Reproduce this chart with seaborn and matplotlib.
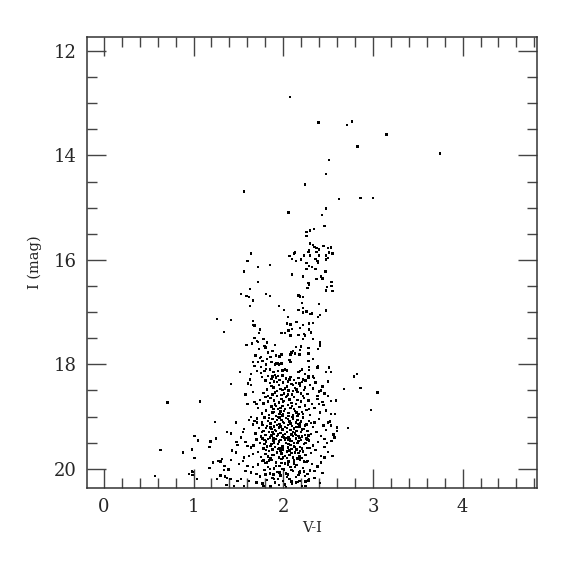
import matplotlib
matplotlib.use("Agg")
import matplotlib.pyplot as plt
import seaborn as sns
import pandas as pd
from matplotlib.ticker import MultipleLocator

# (V-I, I) pairs, grouped by region of the diagram
bright_giants = [
    (2.075, 12.88), (2.395, 13.37), (2.71, 13.42), (2.77, 13.35), (3.15, 13.60),
    (2.83, 13.83), (3.75, 13.96), (2.51, 14.09), (2.48, 14.36), (2.24, 14.56),
    (1.56, 14.69), (2.62, 14.83), (2.86, 14.81), (3.00, 14.81), (2.06, 15.09),
    (2.48, 15.02), (2.43, 15.14), (2.46, 15.35), (2.34, 15.41), (2.30, 15.44),
    (2.26, 15.47), (2.26, 15.54),
]

upper_rgb = [
    (2.30, 15.69), (2.33, 15.72), (2.35, 15.75), (2.37, 15.77), (2.45, 15.73),
    (2.50, 15.77), (2.53, 15.76), (2.40, 15.80), (2.29, 15.81), (2.28, 15.85),
    (2.37, 15.85), (2.51, 15.86), (2.55, 15.88), (2.13, 15.86), (2.12, 15.88),
    (2.07, 15.93), (2.23, 15.92), (2.30, 15.92), (2.40, 15.92), (2.48, 15.92),
    (2.50, 15.96), (2.48, 15.99), (2.36, 15.98), (2.38, 16.02), (2.39, 16.05),
    (2.10, 15.98), (2.14, 16.02), (2.20, 15.99), (2.26, 16.06), (2.29, 16.12),
    (2.32, 16.14), (2.36, 16.17), (2.26, 16.18), (2.47, 16.22), (1.85, 16.10),
    (2.10, 16.28), (2.22, 16.32), (2.42, 16.32), (2.44, 16.36), (2.37, 16.37),
    (2.54, 16.42), (2.28, 16.44), (2.29, 16.47), (2.27, 16.54), (2.49, 16.52),
    (2.54, 16.50), (2.48, 16.59), (2.55, 16.60), (1.81, 16.65), (1.85, 16.69),
    (2.17, 16.68), (2.19, 16.70), (2.22, 16.71), (2.21, 16.82), (1.95, 16.88),
    (2.01, 16.96), (2.17, 16.96), (2.22, 16.92), (2.40, 16.85), (2.22, 17.01),
    (2.26, 16.99), (2.30, 17.04), (2.32, 17.03), (2.48, 16.97), (2.39, 17.09),
    (2.41, 17.06), (2.05, 17.09),
]

blue_side = [
    (1.64, 15.88), (1.60, 16.02), (1.56, 16.22), (1.72, 16.14), (1.72, 16.42),
    (1.63, 16.56), (1.53, 16.65), (1.59, 16.69), (1.62, 16.71), (1.66, 16.78),
    (1.63, 16.88), (1.26, 17.13), (1.42, 17.15), (1.34, 17.38), (1.66, 17.17),
    (1.67, 17.25), (1.68, 17.26), (1.74, 17.33), (1.73, 17.40), (1.68, 17.49),
    (1.71, 17.55), (1.72, 17.57), (1.78, 17.52), (1.65, 17.60), (1.59, 17.63),
    (1.79, 17.65), (1.82, 17.58), (1.80, 17.68), (1.73, 17.71), (1.83, 17.77),
    (1.69, 17.83), (1.74, 17.88), (1.75, 17.86), (1.82, 17.90), (1.66, 17.95),
    (1.72, 17.95), (1.77, 17.94), (1.81, 18.00), (1.68, 18.03), (1.75, 18.05),
    (1.81, 18.09), (1.52, 18.15), (1.71, 18.13), (1.75, 18.17), (1.79, 18.13),
    (1.63, 18.29), (1.42, 18.38), (1.58, 18.58), (1.64, 18.18), (1.61, 18.37),
    (1.64, 18.40), (1.66, 18.53), (1.68, 18.72), (1.70, 18.76), (1.60, 18.76),
    (0.71, 18.73), (1.07, 18.71), (1.24, 19.10), (1.37, 19.30), (1.01, 19.37),
    (1.05, 19.46), (1.19, 19.48), (1.25, 19.42), (1.18, 19.58), (0.63, 19.64),
    (0.88, 19.69), (0.98, 19.63), (1.01, 19.79), (1.22, 19.88), (1.28, 19.85),
    (1.30, 19.86), (1.32, 19.81), (1.35, 19.94), (1.18, 19.98), (1.34, 20.02),
    (0.98, 20.05), (0.95, 20.10), (0.99, 20.12), (0.99, 20.06), (0.57, 20.14),
    (1.04, 20.19), (1.26, 20.19), (1.30, 20.13), (1.35, 20.15), (1.37, 20.18),
    (1.37, 20.31), (1.36, 20.31), (1.47, 19.11), (1.42, 19.32), (1.48, 19.49),
    (1.49, 19.54), (1.43, 19.65), (1.47, 19.69), (1.34, 19.94), (1.39, 20.01),
    (1.42, 19.83), (1.41, 20.20), (1.49, 20.23), (1.64, 19.01), (1.62, 19.06),
    (1.68, 19.08), (1.71, 19.11), (1.56, 19.24), (1.55, 19.30), (1.53, 19.40),
    (1.58, 19.49), (1.60, 19.56), (1.64, 19.59), (1.66, 19.72), (1.62, 19.75),
    (1.56, 19.78), (1.55, 19.85), (1.51, 19.91), (1.60, 19.94), (1.66, 19.97),
    (1.58, 20.04), (1.64, 20.07), (1.70, 20.10), (1.53, 20.20), (1.62, 20.23),
    (1.70, 20.26), (1.45, 20.33), (1.56, 20.33),
]

mid_branch = [
    (1.91, 17.63), (1.88, 17.74), (1.92, 17.83), (1.96, 17.86), (1.87, 17.96),
    (1.91, 18.00), (1.94, 17.98), (1.85, 18.10), (1.89, 18.15), (1.94, 18.13),
    (1.91, 18.20), (1.88, 18.23), (2.04, 17.22), (2.08, 17.24), (2.15, 17.19),
    (2.22, 17.25), (2.29, 17.22), (2.33, 17.21), (2.10, 17.32), (2.19, 17.30),
    (2.29, 17.33), (2.06, 17.35), (1.98, 17.40), (2.02, 17.40), (2.08, 17.45),
    (2.17, 17.44), (2.23, 17.42), (2.24, 17.45), (2.31, 17.39), (2.22, 17.51),
    (2.33, 17.51), (2.14, 17.67), (2.11, 17.74), (2.09, 17.77), (2.20, 17.66),
    (2.19, 17.72), (2.28, 17.69), (2.28, 17.79), (2.41, 17.58), (2.41, 17.64),
    (2.39, 17.71), (1.98, 17.81), (1.95, 17.85), (2.13, 17.79), (2.08, 17.81),
    (2.18, 17.81), (1.86, 17.86), (2.07, 17.92), (2.08, 17.96), (2.28, 17.94),
    (2.33, 17.90), (2.39, 18.03), (2.38, 18.06), (2.51, 18.06), (2.48, 18.15),
    (2.53, 18.15), (2.29, 18.05), (2.29, 18.11), (2.21, 18.10), (2.19, 18.13),
    (2.17, 18.15), (2.02, 18.10), (1.99, 18.12), (2.04, 18.12), (1.92, 17.98),
    (1.98, 17.98), (1.95, 18.00), (2.24, 18.19), (2.28, 18.22), (2.33, 18.23),
    (2.34, 18.26), (2.79, 18.23), (2.82, 18.19), (2.22, 18.29), (2.28, 18.26),
]

red_side = [
    (2.68, 18.47), (2.86, 18.45), (3.05, 18.54), (2.98, 18.87), (2.72, 19.22),
    (2.38, 18.60), (2.42, 18.50), (2.46, 18.56), (2.50, 18.60), (2.59, 18.69),
    (2.40, 18.76), (2.44, 18.72), (2.48, 18.88), (2.53, 18.95), (2.50, 19.11),
    (2.53, 19.17), (2.60, 19.27), (2.57, 19.40), (2.46, 19.43), (2.49, 19.51),
    (2.55, 19.75), (2.46, 19.78), (2.42, 19.88), (2.38, 19.97), (2.35, 20.04),
    (2.27, 20.10), (2.29, 20.20), (2.18, 20.23), (2.25, 20.33),
]

core_18 = [
    (1.76, 18.24), (1.80, 18.31), (1.83, 18.22), (1.85, 18.36), (1.87, 18.28),
    (1.89, 18.44), (1.90, 18.33), (1.92, 18.25), (1.93, 18.51), (1.95, 18.39),
    (1.96, 18.30), (1.97, 18.47), (1.99, 18.21), (2.00, 18.35), (2.01, 18.56),
    (2.03, 18.27), (2.04, 18.42), (2.05, 18.33), (2.06, 18.50), (2.08, 18.24),
    (2.09, 18.38), (2.10, 18.58), (2.12, 18.30), (2.13, 18.45), (2.14, 18.36),
    (2.16, 18.53), (2.17, 18.26), (2.19, 18.41), (2.21, 18.34), (2.23, 18.49),
    (2.25, 18.31), (2.27, 18.57), (2.30, 18.40), (2.33, 18.46), (2.36, 18.35),
    (2.40, 18.52), (2.44, 18.42), (2.50, 18.33), (1.82, 18.48), (1.78, 18.55),
    (1.88, 18.58), (1.94, 18.22), (2.02, 18.46), (2.07, 18.29), (2.15, 18.48),
    (1.98, 18.59), (2.11, 18.40), (2.20, 18.56),
    (1.72, 18.83), (1.74, 18.68), (1.76, 18.94), (1.78, 18.75), (1.80, 18.62),
    (1.81, 18.88), (1.83, 18.71), (1.84, 18.97), (1.86, 18.64), (1.87, 18.81),
    (1.88, 18.92), (1.90, 18.69), (1.91, 18.77), (1.92, 18.99), (1.93, 18.61),
    (1.94, 18.86), (1.95, 18.73), (1.97, 18.90), (1.98, 18.66), (1.99, 18.80),
    (2.00, 18.96), (2.01, 18.70), (2.02, 18.85), (2.03, 18.63), (2.05, 18.78),
    (2.06, 18.93), (2.07, 18.67), (2.08, 18.84), (2.09, 18.74), (2.11, 18.98),
    (2.12, 18.62), (2.13, 18.89), (2.14, 18.76), (2.16, 18.68), (2.17, 18.95),
    (2.18, 18.82), (2.20, 18.71), (2.21, 18.91), (2.23, 18.64), (2.24, 18.79),
    (2.26, 18.87), (2.28, 18.69), (2.30, 18.97), (2.32, 18.76), (2.35, 18.84),
    (2.38, 18.66), (2.41, 18.92), (2.45, 18.78), (2.48, 18.88), (2.53, 18.70),
    (2.58, 18.95), (1.89, 18.85), (1.96, 18.95), (2.04, 18.61), (2.10, 18.80),
    (2.15, 18.92), (2.22, 18.61),
]

core_19 = [
    (1.66, 19.15), (1.69, 19.32), (1.71, 19.04), (1.73, 19.22), (1.75, 19.38),
    (1.76, 19.11), (1.78, 19.27), (1.79, 19.02), (1.80, 19.35), (1.82, 19.18),
    (1.83, 19.08), (1.84, 19.29), (1.85, 19.39), (1.86, 19.13), (1.87, 19.24),
    (1.88, 19.05), (1.89, 19.33), (1.90, 19.19), (1.91, 19.10), (1.92, 19.28),
    (1.93, 19.37), (1.94, 19.01), (1.95, 19.21), (1.96, 19.14), (1.97, 19.31),
    (1.98, 19.07), (1.99, 19.25), (2.00, 19.36), (2.01, 19.12), (2.02, 19.20),
    (2.03, 19.03), (2.04, 19.30), (2.05, 19.16), (2.06, 19.39), (2.07, 19.09),
    (2.08, 19.26), (2.09, 19.34), (2.10, 19.18), (2.11, 19.04), (2.12, 19.23),
    (2.13, 19.32), (2.14, 19.11), (2.15, 19.28), (2.16, 19.06), (2.17, 19.37),
    (2.18, 19.19), (2.19, 19.13), (2.20, 19.30), (2.22, 19.02), (2.23, 19.24),
    (2.24, 19.35), (2.26, 19.15), (2.27, 19.27), (2.29, 19.08), (2.31, 19.33),
    (2.33, 19.20), (2.35, 19.11), (2.37, 19.29), (2.40, 19.05), (2.42, 19.37),
    (2.45, 19.17), (2.48, 19.26), (2.52, 19.09), (2.56, 19.34), (2.60, 19.21),
    (1.81, 19.22), (1.87, 19.36), (1.93, 19.16), (1.99, 19.39), (2.05, 19.05),
    (2.11, 19.29), (2.17, 19.14), (2.21, 19.38), (1.77, 19.16), (2.28, 19.36),
    (2.02, 19.33), (1.96, 19.02),
    (1.67, 19.55), (1.70, 19.44), (1.72, 19.68), (1.74, 19.51), (1.75, 19.77),
    (1.77, 19.42), (1.78, 19.61), (1.80, 19.72), (1.81, 19.48), (1.82, 19.57),
    (1.84, 19.66), (1.85, 19.41), (1.86, 19.79), (1.87, 19.53), (1.88, 19.63),
    (1.89, 19.46), (1.90, 19.74), (1.91, 19.58), (1.92, 19.43), (1.93, 19.69),
    (1.94, 19.52), (1.95, 19.78), (1.96, 19.61), (1.97, 19.45), (1.98, 19.71),
    (1.99, 19.56), (2.00, 19.64), (2.01, 19.40), (2.02, 19.75), (2.03, 19.50),
    (2.04, 19.67), (2.05, 19.59), (2.06, 19.44), (2.07, 19.73), (2.08, 19.54),
    (2.09, 19.62), (2.10, 19.47), (2.11, 19.78), (2.12, 19.57), (2.13, 19.69),
    (2.14, 19.42), (2.15, 19.63), (2.16, 19.51), (2.18, 19.76), (2.19, 19.58),
    (2.20, 19.45), (2.22, 19.67), (2.23, 19.53), (2.25, 19.74), (2.27, 19.60),
    (2.29, 19.46), (2.31, 19.70), (2.33, 19.55), (2.36, 19.64), (2.39, 19.49),
    (2.42, 19.75), (2.46, 19.58), (2.50, 19.68), (2.54, 19.47), (1.83, 19.76),
    (1.90, 19.50), (1.97, 19.65), (2.04, 19.79), (2.12, 19.50), (2.21, 19.79),
    (1.79, 19.45), (2.07, 19.43), (2.17, 19.70), (2.26, 19.42),
]

core_20 = [
    (1.72, 19.92), (1.74, 20.15), (1.76, 19.85), (1.77, 20.28), (1.79, 20.02),
    (1.80, 19.89), (1.82, 20.21), (1.83, 19.96), (1.85, 20.09), (1.86, 20.34),
    (1.87, 19.83), (1.88, 20.17), (1.90, 19.99), (1.91, 20.26), (1.92, 19.88),
    (1.93, 20.06), (1.95, 20.31), (1.96, 19.94), (1.97, 20.13), (1.98, 19.81),
    (2.00, 20.23), (2.01, 20.01), (2.02, 19.90), (2.03, 20.36), (2.05, 20.11),
    (2.06, 19.86), (2.07, 20.19), (2.08, 19.97), (2.10, 20.29), (2.11, 20.04),
    (2.12, 19.84), (2.14, 20.16), (2.15, 19.93), (2.16, 20.25), (2.18, 20.07),
    (2.19, 19.82), (2.21, 20.33), (2.22, 19.98), (2.24, 20.14), (2.26, 19.87),
    (2.28, 20.22), (2.30, 20.03), (2.32, 19.91), (2.35, 20.18), (2.38, 19.95),
    (2.41, 20.27), (2.44, 20.08), (1.84, 19.84), (1.89, 20.11), (1.94, 20.20),
    (1.99, 20.00), (2.04, 20.16), (2.09, 20.24), (2.13, 19.96), (2.17, 20.12),
    (2.23, 20.05), (2.27, 19.85), (1.78, 20.33), (2.02, 20.30),
]

# extra points filling the densest part of the clump
core_dense = [
    (1.84, 19.03), (1.86, 19.21), (1.89, 19.41), (1.91, 19.26), (1.93, 19.07),
    (1.95, 19.48), (1.97, 19.19), (1.99, 19.60), (2.00, 19.10), (2.02, 19.44),
    (2.04, 19.22), (2.06, 19.53), (2.08, 19.13), (2.09, 19.70), (2.11, 19.37),
    (2.13, 19.58), (2.15, 19.20), (2.17, 19.47), (2.19, 19.66), (2.21, 19.25),
    (2.23, 19.86), (2.25, 19.51), (1.82, 19.88), (1.85, 20.00), (1.88, 19.73),
    (1.90, 20.19), (1.92, 19.95), (1.94, 19.62), (1.96, 20.07), (1.98, 19.89),
    (2.00, 19.78), (2.03, 20.09), (2.05, 19.92), (2.07, 19.65), (2.09, 20.02),
    (2.12, 19.90), (2.14, 20.26), (2.16, 19.80), (2.19, 20.05), (2.21, 19.61),
    (1.79, 19.52), (1.81, 19.64), (1.83, 19.43), (1.86, 19.56), (1.88, 19.30),
    (1.90, 18.91), (1.92, 18.80), (1.94, 19.34), (1.97, 18.83), (1.99, 18.98),
    (2.01, 18.89), (2.03, 19.41), (2.06, 18.99), (2.08, 19.47), (2.10, 19.01),
    (2.12, 18.86), (2.14, 19.35), (2.16, 18.99), (2.18, 19.41), (2.20, 19.09),
    (2.22, 18.95), (2.24, 19.17), (2.27, 19.44), (2.29, 18.86), (2.31, 19.12),
    (1.76, 19.30), (1.78, 19.84), (1.80, 20.11), (2.25, 20.24), (2.30, 19.60),
    (1.87, 18.41), (1.93, 18.34), (1.99, 18.49), (2.05, 18.58), (2.11, 18.51),
    (2.18, 18.37), (2.24, 18.44), (1.83, 18.61), (1.91, 18.54), (2.00, 18.71),
]

groups = [bright_giants, upper_rgb, blue_side, mid_branch, red_side,
          core_18, core_19, core_20, core_dense]
rows = [p for g in groups for p in g]
df = pd.DataFrame(rows, columns=["vi", "imag"])

sns.set_style("ticks")
plt.rcParams["font.family"] = ["DejaVu Serif"]

fig = plt.figure(figsize=(5.75, 5.75), dpi=100)
ax = fig.add_axes([0.151, 0.151, 0.783, 0.785])

sns.scatterplot(data=df, x="vi", y="imag", ax=ax, marker="s", s=3,
                color="black", linewidth=0, edgecolor="none")

ax.set_xlim(-0.19, 4.83)
ax.set_ylim(20.37, 11.73)
ax.xaxis.set_major_locator(MultipleLocator(1))
ax.xaxis.set_minor_locator(MultipleLocator(0.2))
ax.yaxis.set_major_locator(MultipleLocator(2))
ax.yaxis.set_minor_locator(MultipleLocator(0.5))
ax.tick_params(which="both", direction="in", top=True, right=True,
               color="#444444", width=1.0)
ax.tick_params(which="major", length=13.5, labelsize=13, pad=7)
ax.tick_params(which="minor", length=7)
for sp in ax.spines.values():
    sp.set_linewidth(1.1)
    sp.set_color("#333333")

ax.set_xlabel("V-I", fontsize=10.5, labelpad=4)
ax.set_ylabel("I (mag)", fontsize=10.5, labelpad=9)

fig.savefig("out.png", dpi=100)
